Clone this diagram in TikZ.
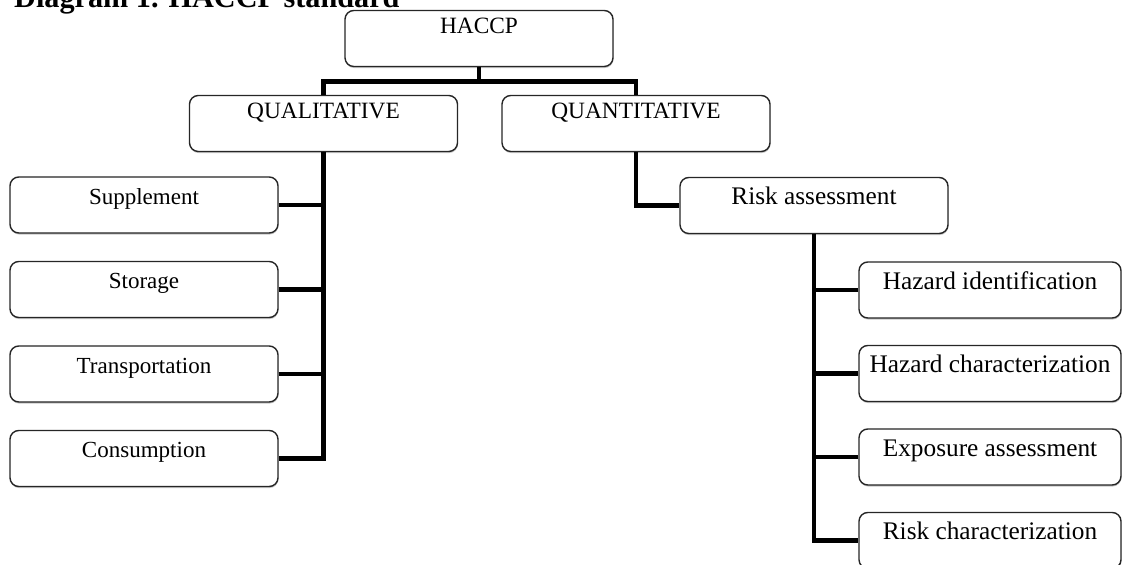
\documentclass[tikz,border=0pt]{standalone}
\usepackage{fontspec}
\setmainfont{Liberation Serif}
\usetikzlibrary{positioning,shadows}

\begin{document}
\begin{tikzpicture}[node distance=1.69cm, on grid,
      box/.style={draw=black!85, line width=0.8pt, rounded corners=5pt, fill=white,
        minimum width=5.36cm, inner xsep=0pt, inner ysep=0pt,
        text height=0.55cm, text depth=0.57cm,
        drop shadow={shadow xshift=0.2pt, shadow yshift=-0.9pt, opacity=0.45},
        font=\fontsize{13.1}{15}\selectfont},
      topbox/.style={box, text height=0.46cm, text depth=0.66cm,
        font=\fontsize{13.3}{15}\selectfont},
      riskbox/.style={box, minimum width=5.24cm, font=\fontsize{14.4}{16}\selectfont},
      link/.style={line width=2.8pt, line join=miter}]
      \useasboundingbox (0,0) rectangle (22.46,-11.3);
      \node[anchor=base west, font=\fontsize{17.2}{20}\selectfont\bfseries] (title)
        at (0.16,-0.15) {Diagram 1. HACCP standard};

      \node[topbox] (haccp) at (9.58,-0.77) {HACCP};
      \node[topbox] (qual) at (6.47,-2.47) {QUALITATIVE};
      \node[topbox] (quant) at (12.72,-2.47) {QUANTITATIVE};
      \node[riskbox, minimum width=5.36cm] (risk) at (16.28,-4.11) {Risk assessment};

      % qualitative side
      \node[box] (supp) at (2.88,-4.10) {Supplement};
      \node[box, below=of supp] (stor) {Storage};
      \node[box, below=of stor] (trans) {Transportation};
      \node[box, below=of trans] (cons) {Consumption};

      % quantitative side
      \node[riskbox] (hazid) at (19.80,-5.80) {Hazard identification};
      \node[riskbox, below=1.67cm of hazid] (hazchar) {Hazard characterization};
      \node[riskbox, below=1.67cm of hazchar] (expo) {Exposure assessment};
      \node[riskbox, below=1.67cm of expo] (riskchar) {Risk characterization};

      \draw[link] (haccp.south) -- ++(0,-0.28) coordinate (bus);
      \draw[link] (qual.north) |- (bus) -| (quant.north);

      \draw[link] (qual.south) |- (cons.east);
      \foreach \n in {supp,stor,trans}
        \draw[link] (\n.east) -- (\n.east -| qual.south);

      \draw[link] (quant.south) |- (risk.west);
      \draw[link] (risk.south) |- (riskchar.west);
      \foreach \n in {hazid,hazchar,expo}
        \draw[link] (\n.west) -- (\n.west -| risk.south);
    \end{tikzpicture}
\end{document}
